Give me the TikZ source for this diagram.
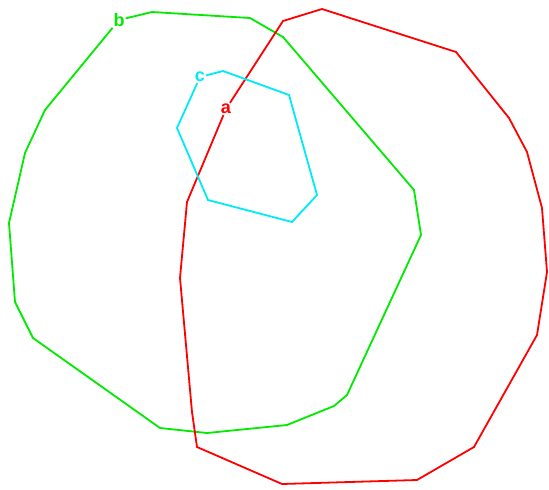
\documentclass[tikz,border=0pt]{standalone}
\usepackage{fontspec}
\setsansfont{Liberation Sans}
\usepackage{tikz}
\usetikzlibrary{positioning}
\definecolor{polyred}{RGB}{255,0,0}
\definecolor{polygreen}{RGB}{0,235,0}
\definecolor{polycyan}{RGB}{0,235,245}

\begin{document}
\begin{tikzpicture}[x=1pt,y=-1pt,
  lbl/.style={fill=white,inner sep=1pt,font=\sffamily\bfseries\fontsize{18}{18}\selectfont},
  poly/.style={line width=1.8pt,line join=miter}
]
\useasboundingbox (0,0) rectangle (549,490);
\node[lbl,text=polygreen] (b) at (119,20) {b};
\node[lbl,text=polycyan] (c) at (200,77) {c};
\node[lbl,text=polyred] (a) at (226,109) {a};
% green region b
\draw[poly,polygreen] (b) -- (152,12) -- (250,18) -- (283,37) -- (414,190) -- (421,235)
  -- (347,395) -- (334,406) -- (287,425) -- (207,433) -- (160,428) -- (33,338)
  -- (15,302) -- (9,223) -- (25,153) -- (45,110) -- (b);
% red region a
\draw[poly,polyred] (a) -- (283,21) -- (322,9) -- (456,52) -- (509,118) -- (527,152)
  -- (542,208) -- (547,272) -- (537,335) -- (474,447) -- (417,480) -- (282,484)
  -- (197,447) -- (192,412) -- (180,278) -- (187,202) -- (a);
% cyan region c
\draw[poly,polycyan] (c) -- (223,71) -- (289,95) -- (317,195) -- (292,222) -- (208,200)
  -- (177,128) -- (c);
\end{tikzpicture}
\end{document}
